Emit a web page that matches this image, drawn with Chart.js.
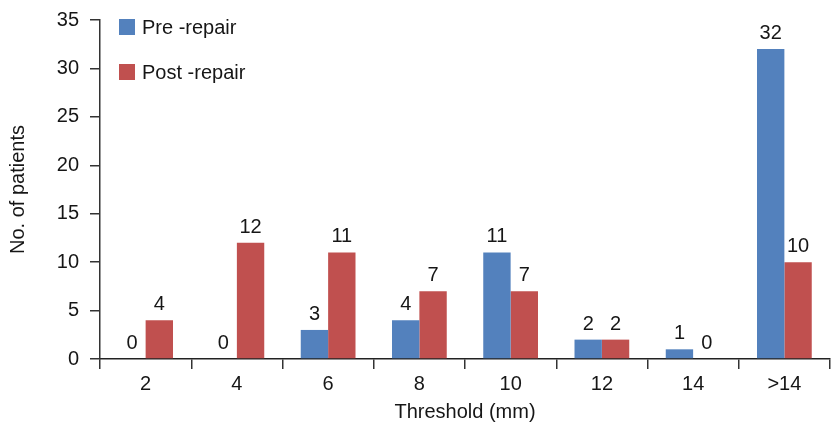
<!DOCTYPE html>
<html>
<head>
<meta charset="utf-8">
<script src="https://cdn.jsdelivr.net/npm/chart.js@4/dist/chart.umd.min.js"></script>
<style>
  html, body { margin: 0; padding: 0; background: #fff; }
  #wrap { width: 832px; height: 427px; }
</style>
</head>
<body>
<div id="wrap"><canvas id="chart" width="832" height="427"></canvas></div>
<script>
// Data
const thresholds = ['2', '4', '6', '8', '10', '12', '14', '>14'];
const preRepair = [0, 0, 3, 4, 11, 2, 1, 32];
const postRepair = [4, 12, 11, 7, 7, 2, 0, 10];
const yTicks = [0, 5, 10, 15, 20, 25, 30, 35];

const BLUE = '#5381bd';
const RED = '#c0504f';
const INK = '#161616';
const FONT = "'Liberation Sans', Arial, sans-serif";

Chart.defaults.font.family = FONT;
Chart.defaults.color = INK;

// values above each bar (zeros included)
const barLabels = {
    id: 'barLabels',
    afterDatasetsDraw(chart) {
        const ctx = chart.ctx;
        ctx.save();
        ctx.font = '20px ' + FONT;
        ctx.fillStyle = INK;
        ctx.textAlign = 'center';
        ctx.textBaseline = 'alphabetic';
        chart.data.datasets.forEach((ds, i) => {
            chart.getDatasetMeta(i).data.forEach((bar, j) => {
                ctx.fillText(String(ds.data[j]), bar.x, bar.y - 10);
            });
        });
        ctx.restore();
    }
};

// legend stacked at top-left inside the plot
const insideLegend = {
    id: 'insideLegend',
    afterDraw(chart) {
        const ctx = chart.ctx;
        const left = chart.chartArea.left + 19;
        ctx.save();
        ctx.font = '20px ' + FONT;
        ctx.textBaseline = 'middle';
        chart.data.datasets.forEach((ds, i) => {
            const y = 27 + i * 45;
            ctx.fillStyle = ds.backgroundColor;
            ctx.fillRect(left, y - 8, 16, 16);
            ctx.fillStyle = INK;
            ctx.fillText(ds.label, left + 23, y + 1);
        });
        ctx.restore();
    }
};

new Chart(document.getElementById('chart'), {
    type: 'bar',
    data: {
        labels: thresholds,
        datasets: [
            { label: 'Pre -repair', data: preRepair, backgroundColor: BLUE },
            { label: 'Post -repair', data: postRepair, backgroundColor: RED }
        ]
    },
    options: {
        responsive: false,
        animation: false,
        devicePixelRatio: 1,
        layout: { padding: { top: 20, right: 2, left: 0, bottom: 0 } },
        datasets: {
            bar: { categoryPercentage: 0.6, barPercentage: 1.0 }
        },
        plugins: {
            legend: { display: false },
            tooltip: { enabled: false }
        },
        scales: {
            x: {
                grid: {
                    offset: true,
                    drawOnChartArea: false,
                    drawTicks: true,
                    tickLength: 10,
                    color: '#333',
                    lineWidth: 1.5
                },
                border: { display: true, color: '#222', width: 1.5 },
                ticks: { font: { size: 20 }, color: INK, padding: 3 },
                title: {
                    display: true,
                    text: 'Threshold (mm)',
                    font: { size: 20 },
                    color: INK,
                    padding: { top: 3, bottom: 3 }
                },
                afterFit(scale) { scale.height = 68; }
            },
            y: {
                min: 0,
                max: 35,
                afterBuildTicks(scale) { scale.ticks = yTicks.map(v => ({ value: v })); },
                grid: {
                    drawOnChartArea: false,
                    drawTicks: true,
                    tickLength: 10,
                    color: '#333',
                    lineWidth: 1.5
                },
                border: { display: true, color: '#333', width: 1.5 },
                ticks: { font: { size: 20 }, color: INK, padding: 11 },
                title: {
                    display: true,
                    text: 'No. of patients',
                    font: { size: 20 },
                    color: INK,
                    padding: { top: 6, bottom: 4 }
                },
                afterFit(scale) {
                    scale.width = 100;
                    scale.paddingTop = 0;
                    scale.paddingBottom = 0;
                }
            }
        }
    },
    plugins: [barLabels, insideLegend]
});
</script>
</body>
</html>
